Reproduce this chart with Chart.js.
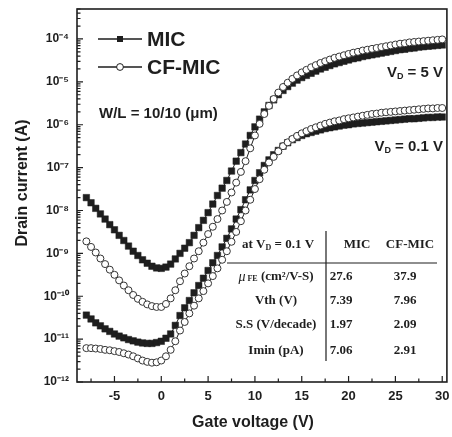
<!DOCTYPE html>
<html>
<head>
<meta charset="utf-8">
<script src="https://cdn.jsdelivr.net/npm/chart.js@4.4.1/dist/chart.umd.min.js"></script>
<style>
  html, body { margin: 0; padding: 0; background: #fff; }
  #wrap { width: 452px; height: 437px; }
</style>
</head>
<body>
<div id="wrap"><canvas id="chart" width="452" height="437"></canvas></div>
<script>
// gate voltage sweep (V)
const gateV = [
  -8, -7.5, -7, -6.5, -6, -5.5, -5, -4.5, -4, -3.5, -3, -2.5, -2, -1.5, -1, -0.5,
  0, 0.5, 1, 1.5, 2, 2.5, 3, 3.5, 4, 4.5, 5, 5.5, 6, 6.5, 7, 7.5, 8, 8.5, 9, 9.5,
  10, 10.5, 11, 11.5, 12, 12.5, 13, 13.5, 14, 14.5, 15, 15.5, 16, 16.5, 17, 17.5,
  18, 18.5, 19, 19.5, 20, 20.5, 21, 21.5, 22, 22.5, 23, 23.5, 24, 24.5, 25, 25.5,
  26, 26.5, 27, 27.5, 28, 28.5, 29, 29.5, 30
];

// drain current as log10(A)
const micVd5 = [
  -7.70, -7.82, -7.95, -8.08, -8.20, -8.33, -8.45, -8.58, -8.70, -8.83, -8.95, -9.05, -9.15, -9.23, -9.30, -9.34,
  -9.35, -9.32, -9.25, -9.13, -9.00, -8.88, -8.75, -8.58, -8.40, -8.23, -8.05, -7.85, -7.65, -7.48, -7.30, -7.08, -6.85, -6.65, -6.45, -6.25,
  -6.05, -5.87, -5.70, -5.55, -5.42, -5.30, -5.20, -5.11, -5.03, -4.96, -4.90, -4.85, -4.80, -4.75, -4.70, -4.66,
  -4.62, -4.58, -4.55, -4.52, -4.49, -4.46, -4.44, -4.41, -4.39, -4.37, -4.35, -4.33, -4.31, -4.29, -4.27, -4.25,
  -4.24, -4.22, -4.21, -4.19, -4.18, -4.17, -4.16, -4.15, -4.14
];
const cfVd5 = [
  -8.72, -8.85, -8.98, -9.12, -9.25, -9.38, -9.50, -9.63, -9.75, -9.86, -9.97, -10.06, -10.13, -10.19, -10.23, -10.25,
  -10.25, -10.18, -10.05, -9.86, -9.65, -9.47, -9.30, -9.12, -8.95, -8.75, -8.55, -8.38, -8.20, -8.00, -7.80, -7.58, -7.35, -7.10, -6.85, -6.55,
  -6.25, -5.98, -5.75, -5.56, -5.40, -5.25, -5.12, -5.02, -4.93, -4.85, -4.78, -4.72, -4.66, -4.61, -4.56, -4.52,
  -4.48, -4.44, -4.41, -4.38, -4.35, -4.32, -4.30, -4.27, -4.25, -4.23, -4.21, -4.19, -4.17, -4.15, -4.13, -4.11,
  -4.10, -4.08, -4.07, -4.06, -4.05, -4.04, -4.03, -4.02, -4.01
];
const micVd01 = [
  -10.44, -10.53, -10.62, -10.69, -10.76, -10.82, -10.88, -10.93, -10.97, -11.01, -11.04, -11.07, -11.09, -11.10, -11.10, -11.08,
  -11.05, -10.98, -10.88, -10.68, -10.45, -10.27, -10.10, -9.92, -9.75, -9.58, -9.40, -9.22, -9.05, -8.85, -8.65, -8.43, -8.20, -7.98, -7.75, -7.52,
  -7.30, -7.12, -6.95, -6.82, -6.70, -6.60, -6.50, -6.42, -6.35, -6.30, -6.25, -6.21, -6.18, -6.15, -6.12, -6.09,
  -6.07, -6.05, -6.03, -6.01, -6.00, -5.98, -5.97, -5.96, -5.95, -5.94, -5.93, -5.92, -5.91, -5.90, -5.89, -5.88,
  -5.87, -5.86, -5.86, -5.85, -5.84, -5.83, -5.83, -5.82, -5.82
];
const cfVd01 = [
  -11.21, -11.21, -11.22, -11.23, -11.25, -11.26, -11.28, -11.30, -11.33, -11.36, -11.40, -11.45, -11.50, -11.53, -11.55, -11.54,
  -11.50, -11.40, -11.25, -11.05, -10.80, -10.60, -10.40, -10.22, -10.05, -9.88, -9.70, -9.53, -9.35, -9.15, -8.95, -8.73, -8.50, -8.25, -8.00, -7.75,
  -7.50, -7.27, -7.05, -6.88, -6.75, -6.62, -6.50, -6.41, -6.33, -6.26, -6.20, -6.15, -6.10, -6.06, -6.02, -5.98,
  -5.95, -5.92, -5.90, -5.87, -5.85, -5.83, -5.81, -5.79, -5.77, -5.75, -5.74, -5.72, -5.71, -5.70, -5.69, -5.68,
  -5.67, -5.66, -5.65, -5.64, -5.63, -5.62, -5.62, -5.61, -5.61
];

const xTicks = [-5, 0, 5, 10, 15, 20, 25, 30];
const xMinor = [-7.5, -2.5, 2.5, 7.5, 12.5, 17.5, 22.5, 27.5];
const yDecades = [1e-12, 1e-11, 1e-10, 1e-9, 1e-8, 1e-7, 1e-6, 1e-5, 1e-4];
const yTickLabels = ['10⁻¹²', '10⁻¹¹', '10⁻¹⁰', '10⁻⁹', '10⁻⁸', '10⁻⁷', '10⁻⁶', '10⁻⁵', '10⁻⁴'];

// parameter table (at VD = 0.1 V)
const tableRows = ['mu', 'Vth (V)', 'S.S (V/decade)', 'Imin (pA)'];
const tableMIC = ['27.6', '7.39', '1.97', '7.06'];
const tableCF = ['37.9', '7.96', '2.09', '2.91'];

const SANS = '"Liberation Sans", Arial, sans-serif';
const SERIF = '"Liberation Serif", "Times New Roman", serif';
const INK = '#1e1e1e';

function points(logs) {
  return gateV.map((v, i) => ({ x: v, y: Math.pow(10, logs[i]) }));
}

// draw a run of text pieces (for sub/superscripts)
function drawRuns(ctx, x, y, runs, align) {
  let total = 0;
  runs.forEach((r) => { ctx.font = r.font; total += ctx.measureText(r.t).width; });
  let cx = align === 'center' ? x - total / 2 : (align === 'right' ? x - total : x);
  ctx.textAlign = 'left';
  ctx.textBaseline = 'middle';
  runs.forEach((r) => {
    ctx.font = r.font;
    ctx.fillText(r.t, cx, y + (r.dy || 0));
    cx += ctx.measureText(r.t).width;
  });
}

function noPadding(s) {
  s.paddingLeft = 0; s.paddingRight = 0; s.paddingTop = 0; s.paddingBottom = 0;
}

const decorations = {
  id: 'decorations',
  afterDraw(chart) {
    const { ctx, chartArea: a, scales: { x, y } } = chart;
    ctx.save();
    ctx.strokeStyle = INK;
    ctx.fillStyle = INK;

    // frame
    ctx.lineWidth = 1.6;
    ctx.strokeRect(a.left, a.top, a.right - a.left, a.bottom - a.top);

    // inward ticks
    ctx.lineWidth = 1.2;
    ctx.beginPath();
    xTicks.forEach((v) => {
      const px = x.getPixelForValue(v);
      ctx.moveTo(px, a.bottom); ctx.lineTo(px, a.bottom - 6);
    });
    xMinor.forEach((v) => {
      const px = x.getPixelForValue(v);
      ctx.moveTo(px, a.bottom); ctx.lineTo(px, a.bottom - 3.5);
    });
    yDecades.forEach((d) => {
      for (let k = 1; k <= 9; k++) {
        const val = d * k;
        if (val > y.max) break;
        const py = y.getPixelForValue(val);
        ctx.moveTo(a.left, py); ctx.lineTo(a.left + (k === 1 ? 6 : 3.5), py);
      }
    });
    ctx.stroke();

    // axis titles
    ctx.font = 'bold 16px ' + SANS;
    ctx.textAlign = 'center';
    ctx.textBaseline = 'middle';
    ctx.fillText('Gate voltage (V)', 253, 423);
    ctx.save();
    ctx.translate(23, 183);
    ctx.rotate(-Math.PI / 2);
    ctx.fillText('Drain current (A)', 0, 0);
    ctx.restore();

    // legend
    ctx.lineWidth = 1.3;
    ctx.beginPath();
    ctx.moveTo(98, 39); ctx.lineTo(142, 39);
    ctx.moveTo(98, 67); ctx.lineTo(142, 67);
    ctx.stroke();
    ctx.fillRect(117, 36, 6, 6);
    ctx.beginPath();
    ctx.arc(120, 67, 3.4, 0, Math.PI * 2);
    ctx.fillStyle = '#fff';
    ctx.fill();
    ctx.lineWidth = 1;
    ctx.stroke();
    ctx.fillStyle = INK;
    ctx.font = 'bold 21px ' + SANS;
    ctx.textAlign = 'left';
    ctx.fillText('MIC', 147, 40);
    ctx.fillText('CF-MIC', 147, 68);

    // annotations
    ctx.font = 'bold 15px ' + SANS;
    ctx.fillText('W/L = 10/10 (μm)', 99, 114);
    const big = 'bold 15px ' + SANS, sub = 'bold 9px ' + SANS;
    drawRuns(ctx, 443, 73, [{ t: 'V', font: big }, { t: 'D', font: sub, dy: 4 }, { t: ' = 5 V', font: big }], 'right');
    drawRuns(ctx, 443, 147, [{ t: 'V', font: big }, { t: 'D', font: sub, dy: 4 }, { t: ' = 0.1 V', font: big }], 'right');

    // table
    const tf = 'bold 13px ' + SERIF, ts = 'bold 8px ' + SERIF;
    drawRuns(ctx, 278, 245, [{ t: 'at V', font: tf }, { t: 'D', font: ts, dy: 3 }, { t: ' = 0.1 V', font: tf }], 'center');
    drawRuns(ctx, 357, 245, [{ t: 'MIC', font: tf }], 'center');
    drawRuns(ctx, 410, 245, [{ t: 'CF-MIC', font: tf }], 'center');
    const rowY = [277, 301, 325, 351];
    tableRows.forEach((label, i) => {
      if (label === 'mu') {
        drawRuns(ctx, 276, rowY[i], [
          { t: 'μ', font: 'italic 14px ' + SERIF },
          { t: ' FE', font: ts, dy: 2 },
          { t: ' (cm²/V-S)', font: tf }
        ], 'center');
      } else {
        drawRuns(ctx, 276, rowY[i], [{ t: label, font: tf }], 'center');
      }
      drawRuns(ctx, 341, rowY[i], [{ t: tableMIC[i], font: tf }], 'center');
      drawRuns(ctx, 405, rowY[i], [{ t: tableCF[i], font: tf }], 'center');
    });
    ctx.lineWidth = 1.2;
    ctx.beginPath();
    ctx.moveTo(227, 263); ctx.lineTo(437, 263);
    ctx.moveTo(326, 231); ctx.lineTo(326, 361);
    ctx.stroke();

    ctx.restore();
  }
};

const filled = {
  showLine: true, borderColor: INK, borderWidth: 1,
  pointStyle: 'rect', pointRadius: 4.6, pointBackgroundColor: INK, pointBorderColor: INK, pointBorderWidth: 0.5,
  order: 1
};
const hollow = {
  showLine: true, borderColor: INK, borderWidth: 1,
  pointStyle: 'circle', pointRadius: 3.5, pointBackgroundColor: '#fff', pointBorderColor: '#333', pointBorderWidth: 1,
  order: 0
};

new Chart(document.getElementById('chart'), {
  type: 'scatter',
  data: {
    datasets: [
      Object.assign({ label: 'MIC (VD = 5 V)', data: points(micVd5) }, filled),
      Object.assign({ label: 'MIC (VD = 0.1 V)', data: points(micVd01) }, filled),
      Object.assign({ label: 'CF-MIC (VD = 5 V)', data: points(cfVd5) }, hollow),
      Object.assign({ label: 'CF-MIC (VD = 0.1 V)', data: points(cfVd01) }, hollow),
    ],
  },
  options: {
    responsive: false,
    animation: false,
    layout: { padding: { top: 9, right: 3, left: 0, bottom: 0 } },
    plugins: { legend: { display: false }, tooltip: { enabled: false } },
    scales: {
      x: {
        type: 'linear', min: -9, max: 30.5,
        afterBuildTicks: (s) => { s.ticks = xTicks.map((v) => ({ value: v })); },
        afterFit: (s) => { s.height = 55; noPadding(s); },
        grid: { display: false, drawTicks: false },
        border: { display: false },
        ticks: { color: INK, padding: 7, maxRotation: 0, autoSkip: false, font: { family: SANS, size: 13, weight: 'bold' } },
      },
      y: {
        type: 'logarithmic', min: 1e-12, max: 5e-4,
        afterBuildTicks: (s) => { s.ticks = yDecades.map((v) => ({ value: v })); },
        afterFit: (s) => { s.width = 77; noPadding(s); },
        grid: { display: false, drawTicks: false },
        border: { display: false },
        ticks: {
          color: INK, padding: 8, autoSkip: false,
          font: { family: SANS, size: 12, weight: 'bold' },
          callback: (v, i) => yTickLabels[i],
        },
      },
    },
  },
  plugins: [decorations],
});
</script>
</body>
</html>
